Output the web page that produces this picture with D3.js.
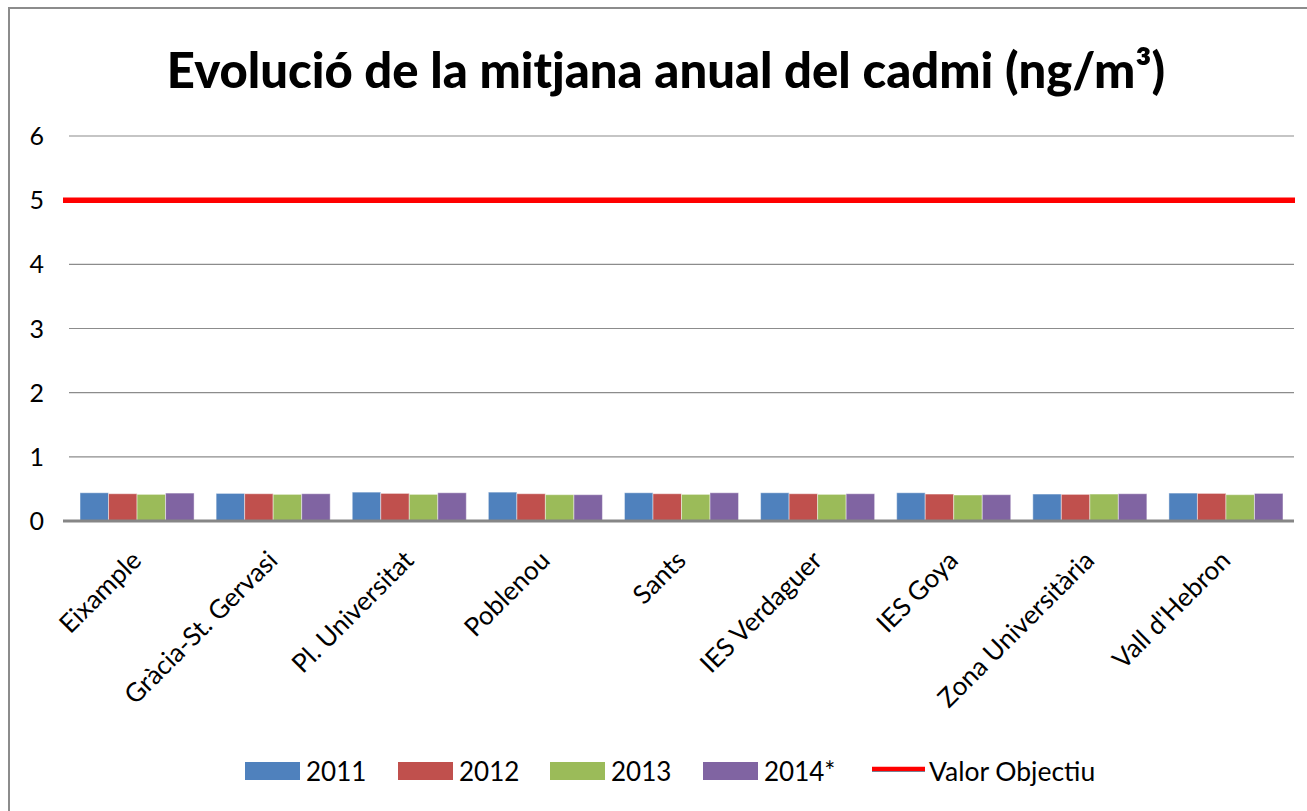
<!DOCTYPE html>
<html>
<head>
<meta charset="utf-8">
<script src="https://cdn.jsdelivr.net/npm/d3@7"></script>
<style>
  html, body { margin: 0; padding: 0; background: #fff; }
  svg { display: block; font-family: Lato, "Open Sans", sans-serif; }
</style>
</head>
<body>
<svg id="chart" width="1307" height="811"></svg>
<script>
// ── data ──────────────────────────────────────────────
const estacions = ['Eixample', 'Gràcia-St. Gervasi', 'Pl. Universitat', 'Poblenou', 'Sants',
                   'IES Verdaguer', 'IES Goya', 'Zona Universitària', "Vall d'Hebron"];
const anys = ['2011', '2012', '2013', '2014*'];
const v2011 = [0.44, 0.43, 0.45, 0.45, 0.44, 0.44, 0.44, 0.42, 0.435];
const v2012 = [0.425, 0.425, 0.43, 0.425, 0.425, 0.425, 0.42, 0.415, 0.43];
const v2013 = [0.415, 0.415, 0.415, 0.41, 0.415, 0.415, 0.405, 0.42, 0.41];
const v2014 = [0.435, 0.425, 0.44, 0.41, 0.44, 0.425, 0.41, 0.425, 0.43];
const valorObjectiu = 5;
const yTicks = [0, 1, 2, 3, 4, 5, 6];

const series = [v2011, v2012, v2013, v2014];
const colors = ['#4f81bd', '#c0504d', '#9bbb59', '#8064a2'];

const svg = d3.select('#chart');

// ── frame (only top + left edge visible) ──────────────
svg.append('path')
  .attr('d', 'M9,811V8H1307')
  .attr('fill', 'none')
  .attr('stroke', '#8c8c8c')
  .attr('stroke-width', 2);

// ── title ─────────────────────────────────────────────
svg.append('text')
  .attr('x', 666).attr('y', 88)
  .attr('text-anchor', 'middle')
  .attr('font-size', 49)
  .attr('font-weight', 900)
  .attr('fill', '#000')
  .text('Evolució de la mitjana anual del cadmi (ng/m³)');

// ── scales ────────────────────────────────────────────
const plot = { left: 69, right: 1294, top: 136, bottom: 521 };
const x = d3.scaleBand().domain(estacions).range([plot.left, plot.right]).paddingInner(0.162).paddingOuter(0.081);
const xSub = d3.scaleBand().domain(anys).range([0, x.bandwidth()]);
const y = d3.scaleLinear().domain([0, 6]).range([plot.bottom, plot.top]);

// ── gridlines ─────────────────────────────────────────
svg.append('g').selectAll('line')
  .data(yTicks.filter(t => t > 0))
  .join('line')
    .attr('x1', plot.left).attr('x2', plot.right)
    .attr('y1', d => y(d)).attr('y2', d => y(d))
    .attr('stroke', '#8c8c8c').attr('stroke-width', 1.2);

// y tick labels
svg.append('g').selectAll('text')
  .data(yTicks)
  .join('text')
    .attr('x', 44).attr('y', d => y(d) + 9)
    .attr('text-anchor', 'end')
    .attr('font-size', 25)
    .attr('fill', '#000')
    .text(d => d);

// ── bars ──────────────────────────────────────────────
series.forEach((vals, si) => {
  svg.append('g').selectAll('rect')
    .data(vals)
    .join('rect')
      .attr('x', (d, i) => x(estacions[i]) + xSub(anys[si]))
      .attr('y', d => y(d))
      .attr('width', xSub.bandwidth())
      .attr('height', d => y(0) - y(d))
      .attr('fill', colors[si])
      .attr('stroke', 'rgba(255,255,255,0.45)')
      .attr('stroke-width', 1);
});

// x axis line
svg.append('line')
  .attr('x1', plot.left - 6).attr('x2', plot.right)
  .attr('y1', y(0)).attr('y2', y(0))
  .attr('stroke', '#868686').attr('stroke-width', 3);

// ── objective line ────────────────────────────────────
svg.append('line')
  .attr('x1', plot.left - 6).attr('x2', plot.right + 1)
  .attr('y1', y(valorObjectiu)).attr('y2', y(valorObjectiu))
  .attr('stroke', '#ff0000').attr('stroke-width', 5.5);

// ── x labels ──────────────────────────────────────────
svg.append('g').selectAll('text')
  .data(estacions)
  .join('text')
    .attr('text-anchor', 'end')
    .attr('font-size', 26)
    .attr('fill', '#000')
    .attr('transform', d => `translate(${x(d) + x.bandwidth() / 2 + 6},${plot.bottom + 41}) rotate(-45)`)
    .text(d => d);

// ── legend ────────────────────────────────────────────
const legend = svg.append('g');
const legendX = [245, 398, 550, 703];
anys.forEach((a, i) => {
  legend.append('rect')
    .attr('x', legendX[i]).attr('y', 762)
    .attr('width', 55).attr('height', 18)
    .attr('fill', colors[i]);
  legend.append('text')
    .attr('x', legendX[i] + 61).attr('y', 781)
    .attr('font-size', 26)
    .attr('fill', '#000')
    .text(a);
});
legend.append('line')
  .attr('x1', 872).attr('x2', 925).attr('y1', 771).attr('y2', 771)
  .attr('stroke', '#4bacc6').attr('stroke-width', 2);
legend.append('line')
  .attr('x1', 872).attr('x2', 925).attr('y1', 769).attr('y2', 769)
  .attr('stroke', '#ff0000').attr('stroke-width', 4.5);
legend.append('text')
  .attr('x', 929).attr('y', 781)
  .attr('font-size', 26.5)
  .attr('fill', '#000')
  .text('Valor Objectiu');
</script>
</body>
</html>
